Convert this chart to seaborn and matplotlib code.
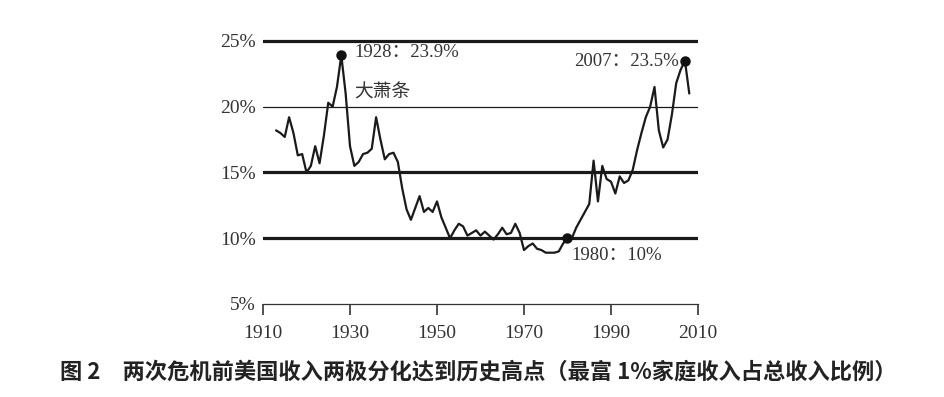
import numpy as np
import pandas as pd
import matplotlib
matplotlib.use('Agg')
import matplotlib.pyplot as plt
import seaborn as sns

# top 1% income share (yearly)
years = list(range(1913, 2009))
share = [18.2, 18.0, 17.7, 19.2, 18.0, 16.3, 16.4, 15.0, 15.5, 17.0,
         15.7, 17.8, 20.3, 20.0, 21.5, 23.9, 21.0, 17.0, 15.5, 15.8,
         16.4, 16.5, 16.8, 19.2, 17.5, 16.0, 16.4, 16.5, 15.8, 13.8,
         12.2, 11.4, 12.3, 13.2, 12.0, 12.3, 12.0, 12.8, 11.6, 10.8,
         10.0, 10.6, 11.1, 10.9, 10.2, 10.4, 10.6, 10.2, 10.5, 10.2,
         9.9, 10.3, 10.8, 10.3, 10.4, 11.1, 10.4, 9.1, 9.4, 9.6,
         9.2, 9.1, 8.9, 8.9, 8.9, 9.0, 9.6, 10.0, 10.0, 10.8,
         11.4, 12.0, 12.6, 15.9, 12.8, 15.5, 14.5, 14.3, 13.4, 14.7,
         14.2, 14.4, 15.2, 16.7, 18.0, 19.2, 20.0, 21.5, 18.2, 16.9,
         17.5, 19.4, 21.8, 22.8, 23.5, 21.0]

peak_years = [1928, 1980, 2007]
peak_vals = [23.9, 10.0, 23.5]
peak_labels = ['1928：23.9%', '1980：10%', '2007：23.5%']

xticks = [1910, 1930, 1950, 1970, 1990, 2010]
yticks = [5, 10, 15, 20, 25]
caption = '图 2　两次危机前美国收入两极分化达到历史高点（最富 1%家庭收入占总收入比例）'

df = pd.DataFrame({'year': years, 'share': share})

sns.set_theme(style='white')
serif = ['Liberation Serif', 'Noto Sans CJK SC']
plt.rcParams['font.family'] = serif

fig = plt.figure(figsize=(9.44, 3.97), dpi=100)
ax = fig.add_axes([0.2786, 0.2343, 0.4608, 0.6957])

# horizontal reference lines
for v in [10, 15, 25]:
    ax.axhline(v, color='#1a1a1a', lw=2.3, zorder=1)
ax.axhline(20, color='#1a1a1a', lw=0.9, zorder=1)

sns.lineplot(data=df, x='year', y='share', ax=ax, color='#1a1a1a', lw=1.6, zorder=3)
ax.plot(peak_years, peak_vals, 'o', color='#111111', ms=6.5, zorder=4)

txt = dict(family=serif, fontsize=13.5, color='#333333')
ax.text(1931.0, 24.1, peak_labels[0], ha='left', va='center', **txt)
ax.text(1931.0, 21.05, '大萧条', ha='left', va='center', **txt)
ax.text(1981.0, 8.7, peak_labels[1], ha='left', va='center', **txt)
ax.text(2005.6, 23.4, peak_labels[2], ha='right', va='center', **txt)

ax.set_xlim(1910, 2010)
ax.set_ylim(5, 26)
ax.set_xticks(xticks)
ax.set_yticks(yticks)
ax.set_yticklabels([f'{v}%' for v in yticks])
ax.set_xlabel('')
ax.set_ylabel('')
for s in ['top', 'right', 'left']:
    ax.spines[s].set_visible(False)
ax.spines['bottom'].set_color('#333333')
ax.spines['bottom'].set_linewidth(0.9)
ax.tick_params(axis='x', direction='out', length=8, width=1.2, color='#333333',
               pad=7, labelsize=14, labelcolor='#333333', bottom=True)
ax.tick_params(axis='y', length=0, pad=5, labelsize=14, labelcolor='#333333')

fig.text(60 / 944, 1 - 372 / 397, caption, ha='left', va='center',
         family=['Noto Sans CJK SC', 'DejaVu Sans'], fontweight='bold',
         fontsize=16, color='#222222')

fig.savefig('out.png', dpi=100, facecolor='white')
